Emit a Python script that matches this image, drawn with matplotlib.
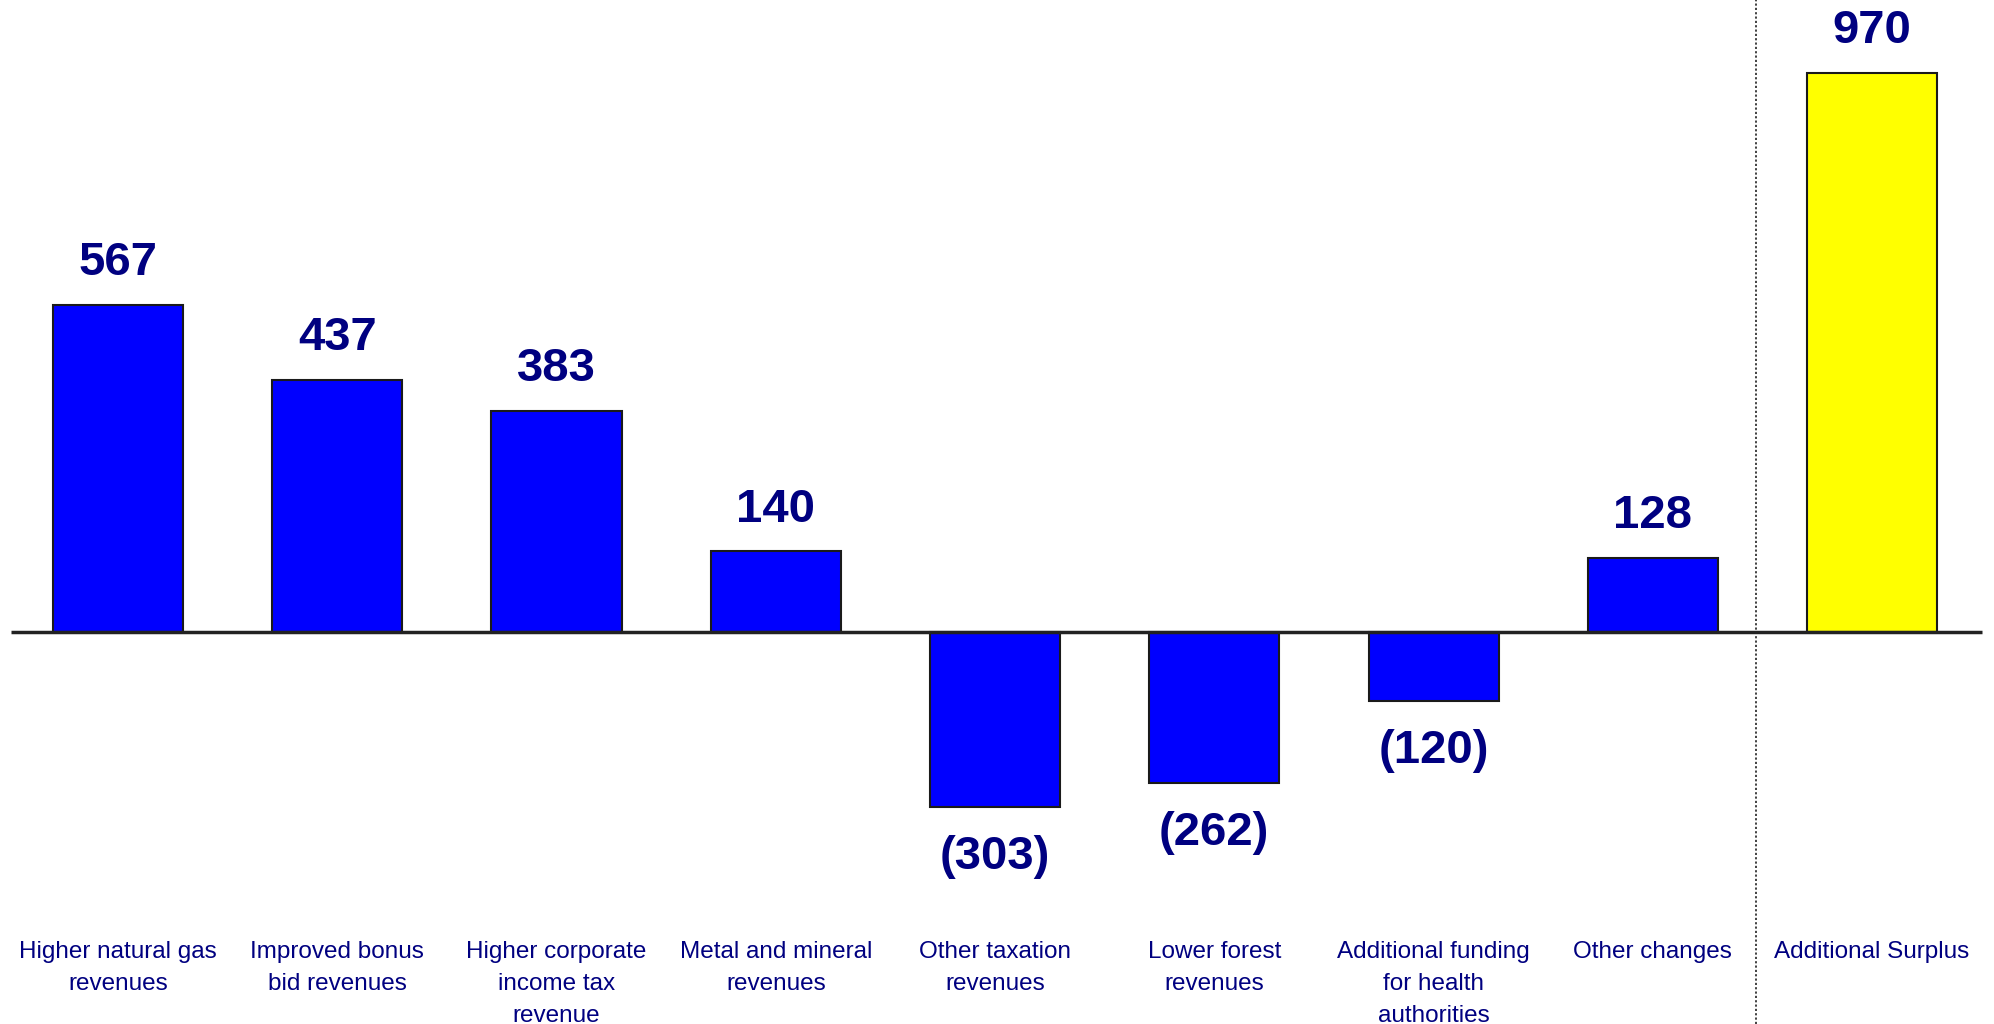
"""
Waterfall-style bar chart: changes making up the additional surplus
"""

import matplotlib
matplotlib.use("Agg")
import matplotlib.pyplot as plt

categories = ["Higher natural gas\nrevenues", "Improved bonus\nbid revenues",
              "Higher corporate\nincome tax\nrevenue", "Metal and mineral\nrevenues",
              "Other taxation\nrevenues", "Lower forest\nrevenues",
              "Additional funding\nfor health\nauthorities", "Other changes",
              "Additional Surplus"]
values = [567, 437, 383, 140, -303, -262, -120, 128, 970]
bar_colors = ["#0000FF"] * 8 + ["#FFFF00"]

NAVY = "#000080"
plt.rcParams['font.family'] = ['Liberation Sans', 'DejaVu Sans']

fig = plt.figure(figsize=(19.94, 10.24), dpi=100)
ax = fig.add_axes([0, 0, 1, 1])
ax.set_xlim(-0.538, 8.556)
ax.set_ylim(-680, 1096)
ax.axis('off')

xs = list(range(len(values)))
ax.bar(xs, values, width=0.593, color=bar_colors, edgecolor='#1a1a1a',
       linewidth=1.5, zorder=2)

# ligne de base et séparateur pointillé
ax.hlines(0, -0.49, 8.5, color='#222222', linewidth=2.5, zorder=3)
ax.axvline(7.47, color='#333333', linestyle=(0, (1.2, 1.2)), linewidth=1.3)

for x, v in zip(xs, values):
    txt = f"{v}" if v >= 0 else f"({-v})"
    off = 30 if v >= 0 else -36
    ax.annotate(txt, (x, v), xytext=(0, off), textcoords='offset points',
                ha='center', va='center', fontsize=34, fontweight='bold',
                color=NAVY)

for x, lab in zip(xs, categories):
    ax.text(x, -536, lab, ha='center', va='top', fontsize=17.5,
            color=NAVY, linespacing=1.6)

fig.savefig("out.png", dpi=100)
